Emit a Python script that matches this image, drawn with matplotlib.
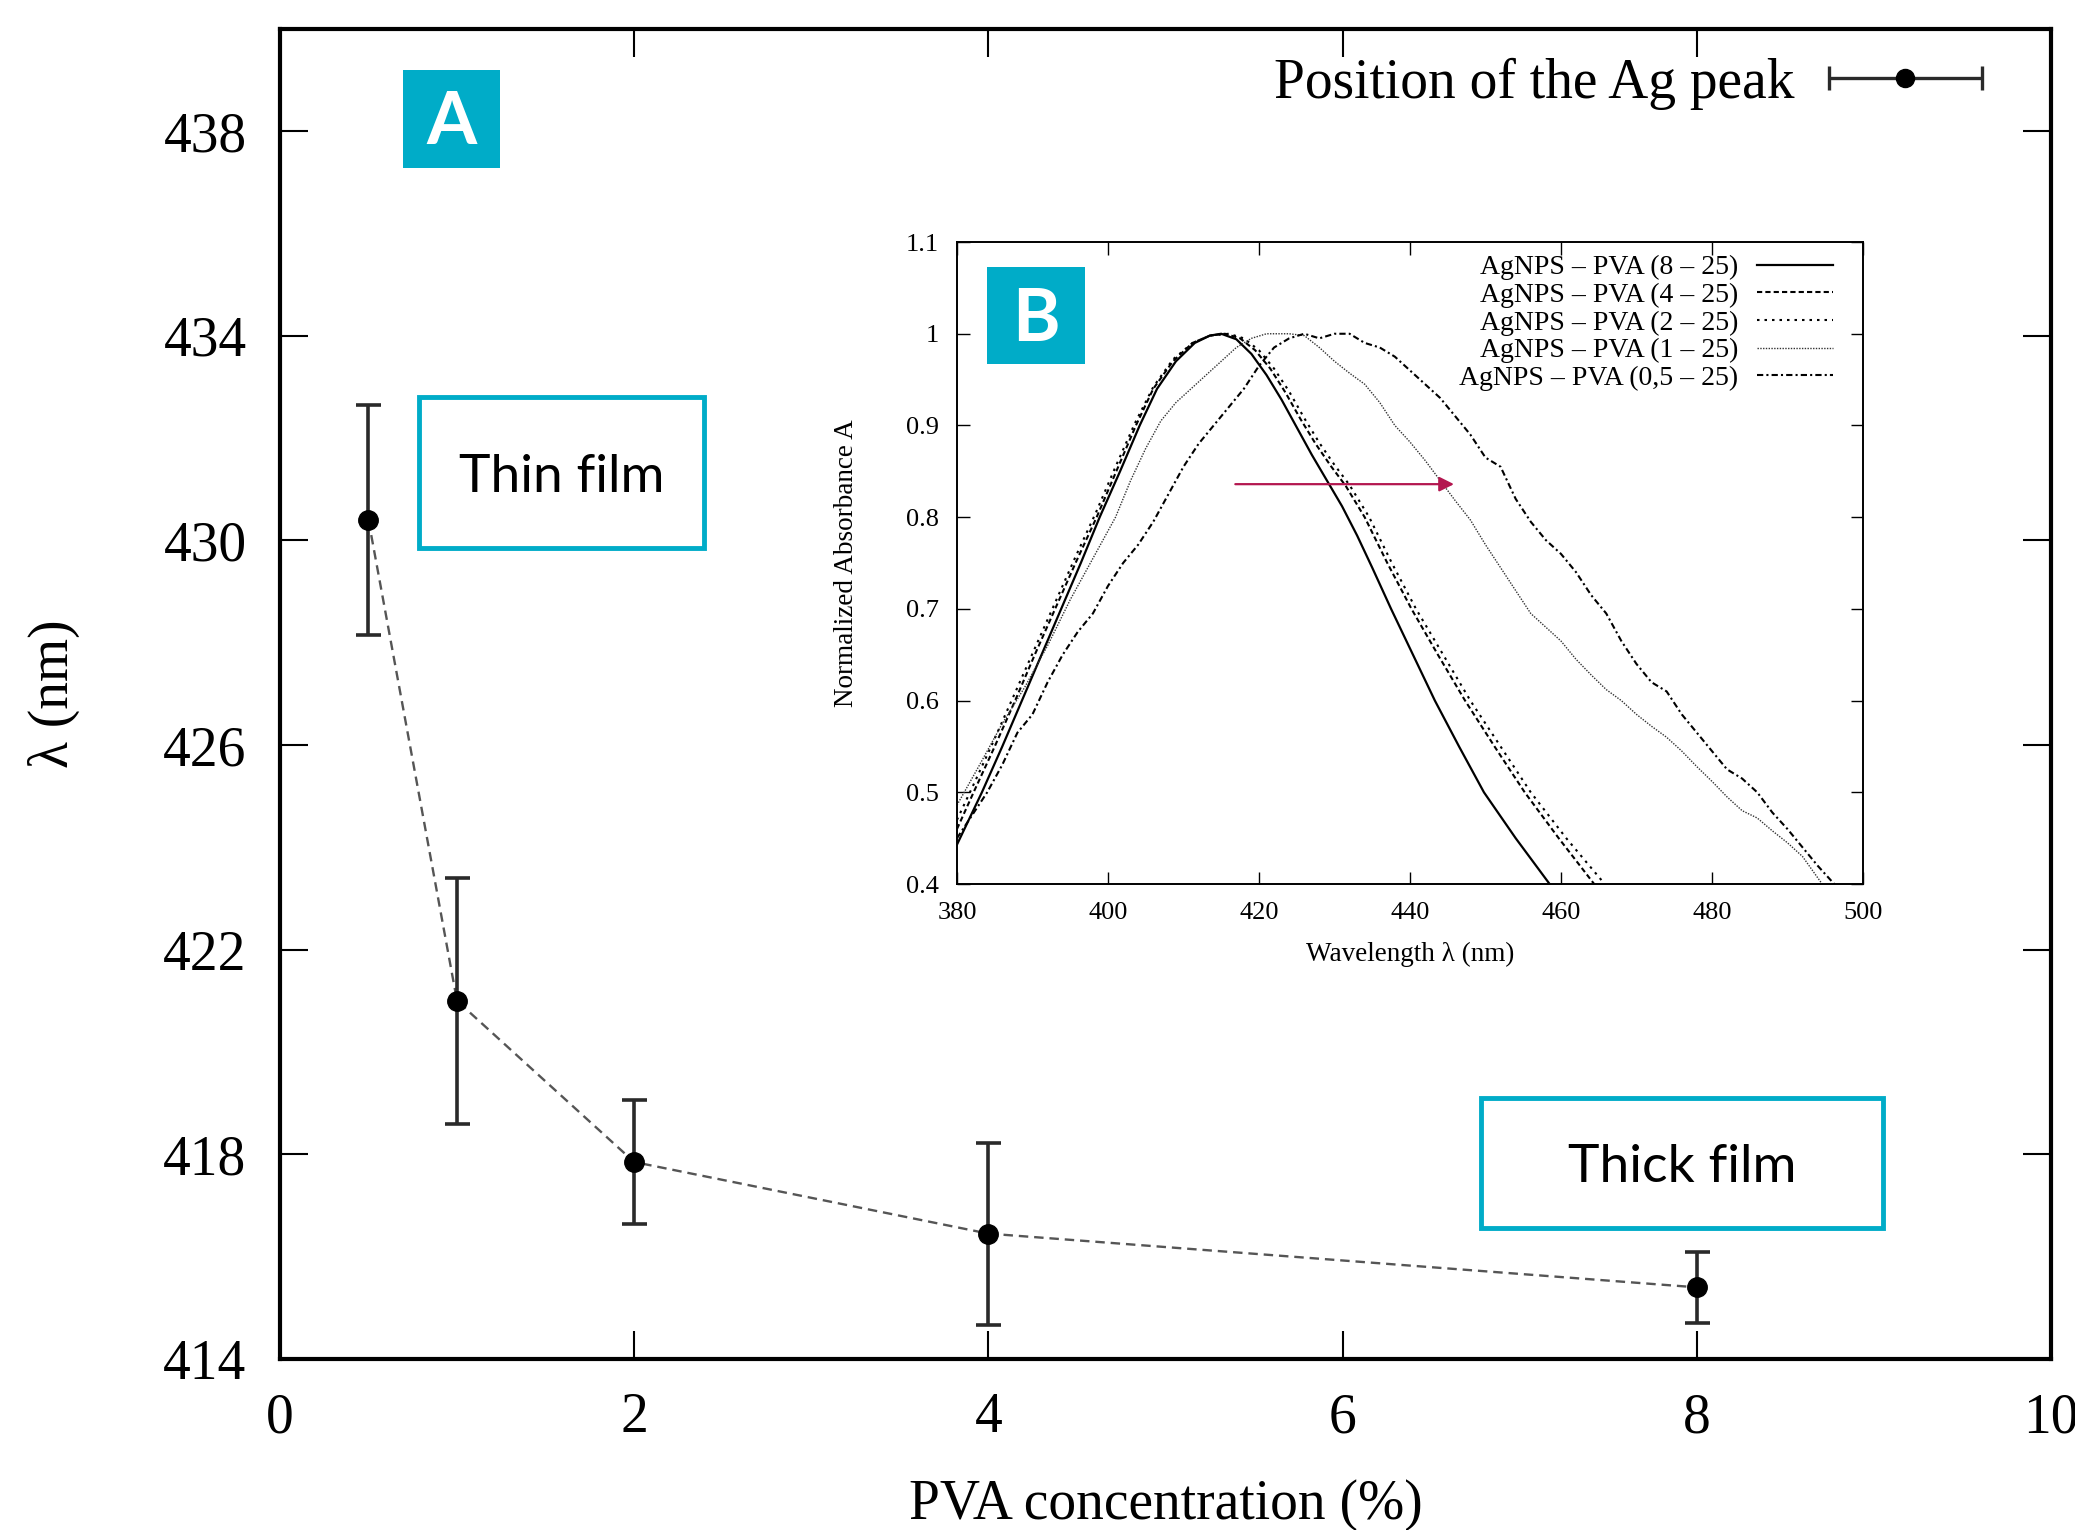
import numpy as np
import matplotlib
matplotlib.use("Agg")
import matplotlib.pyplot as plt
from matplotlib.patches import Rectangle
from matplotlib.ticker import FuncFormatter
from matplotlib.legend_handler import HandlerErrorbar

# main panel: peak position vs PVA concentration
pva_conc = [0.5, 1, 2, 4, 8]
peak_pos = [430.4, 421.0, 417.85, 416.45, 415.4]
peak_err = [2.25, 2.4, 1.22, 1.78, 0.7]

# inset: normalized absorbance spectra
wl_8 = [380, 383.3, 386, 388.6, 391.2, 393.8, 396.4, 398.9, 401.6, 404.2, 406.5, 409, 411.5, 413.5,
        415, 417, 419, 421, 423, 425, 427, 429, 431, 433, 435, 437.5, 440.4, 443.3, 446.5, 449.8,
        454, 458.5]
abs_8 = [0.443, 0.5, 0.55, 0.6, 0.65, 0.7, 0.75, 0.8, 0.85, 0.9, 0.94, 0.97, 0.99, 0.998,
         1.0, 0.994, 0.978, 0.955, 0.928, 0.898, 0.868, 0.84, 0.812, 0.78, 0.745, 0.7, 0.65, 0.6, 0.55, 0.5,
         0.45, 0.4]

wl_4 = [380, 382.2, 385, 387.7, 390.3, 393, 395.7, 398.5, 401.1, 403.7, 406, 408.6, 411.2, 413.5,
        415.5, 417.5, 419.5, 421.5, 423.5, 425.5, 427.5, 429.5, 431.5, 434, 437, 440.2, 443.7, 447.3,
        451.2, 455.2, 459.7, 464.4]
abs_4 = [0.46, 0.5, 0.55, 0.6, 0.65, 0.7, 0.75, 0.8, 0.85, 0.9, 0.94, 0.97, 0.99, 0.998,
         1.0, 0.995, 0.982, 0.962, 0.936, 0.907, 0.88, 0.856, 0.834, 0.8, 0.75, 0.7, 0.65, 0.6,
         0.55, 0.5, 0.45, 0.4]

wl_2 = [380, 382, 384.8, 387.5, 390.2, 392.9, 395.6, 398.4, 401, 403.6, 406, 408.6, 411.2, 413.5,
        416, 418, 420, 422, 424, 426, 428, 430, 432, 434.6, 437.6, 440.8, 444.4, 448, 452, 456,
        460.7, 465.8]
abs_2 = [0.47, 0.505, 0.555, 0.605, 0.655, 0.705, 0.755, 0.805, 0.855, 0.903, 0.942, 0.972, 0.99, 0.998,
         1.0, 0.995, 0.982, 0.962, 0.937, 0.908, 0.881, 0.857, 0.835, 0.8, 0.75, 0.7, 0.65, 0.6, 0.55, 0.5,
         0.45, 0.4]

wl_1 = [380, 383, 386, 389, 392, 395, 397, 399, 401, 403, 405, 407, 409, 411, 413, 415, 417, 419,
        421, 424, 426, 428, 430, 432, 434, 436, 438, 440, 442, 444, 446, 448, 450, 452, 454, 456,
        458, 460, 462, 464, 466, 468, 470, 472, 474, 476, 478, 480, 482, 484, 486, 488, 490, 492, 494.6]
abs_1 = [0.486, 0.53, 0.575, 0.615, 0.66, 0.71, 0.74, 0.77, 0.8, 0.84, 0.875, 0.905, 0.925, 0.94,
         0.955, 0.97, 0.985, 0.995, 1.0, 1.0, 0.998, 0.985, 0.97, 0.957, 0.945, 0.925, 0.9, 0.882,
         0.862, 0.84, 0.818, 0.797, 0.77, 0.745, 0.72, 0.695, 0.68, 0.665, 0.645, 0.628, 0.612, 0.6,
         0.585, 0.572, 0.56, 0.545, 0.528, 0.512, 0.495, 0.48, 0.472, 0.458, 0.445, 0.43, 0.4]

wl_05 = [380, 382, 384, 386, 388, 390, 392, 394, 396, 398, 400, 402, 404, 406, 408, 410, 412, 414,
         416, 418, 420, 422, 424, 426, 428, 430, 432, 434, 436, 438, 440, 442, 444, 446, 448, 450,
         452, 454, 456, 458, 460, 462, 464, 466, 468, 470, 472, 474, 476, 478, 480, 482, 484, 486,
         488, 490, 492, 494, 496.2]
abs_05 = [0.45, 0.475, 0.5, 0.53, 0.565, 0.585, 0.62, 0.65, 0.675, 0.695, 0.725, 0.75, 0.77, 0.795,
          0.825, 0.855, 0.88, 0.9, 0.92, 0.94, 0.965, 0.985, 0.995, 1.0, 0.995, 1.0, 1.0, 0.99, 0.985,
          0.975, 0.96, 0.945, 0.93, 0.91, 0.89, 0.865, 0.855, 0.82, 0.795, 0.775, 0.76, 0.74, 0.715,
          0.695, 0.665, 0.64, 0.62, 0.61, 0.585, 0.565, 0.545, 0.525, 0.515, 0.5, 0.478, 0.46, 0.44,
          0.42, 0.4]

series = [
    ("AgNPS \u2013 PVA (8 \u2013 25)", wl_8, abs_8, dict(lw=1.6, ls="-", color="black")),
    ("AgNPS \u2013 PVA (4 \u2013 25)", wl_4, abs_4, dict(lw=1.5, ls=(0, (2.5, 1.5)), color="black")),
    ("AgNPS \u2013 PVA (2 \u2013 25)", wl_2, abs_2, dict(lw=1.5, ls=(0, (1.2, 2.4)), color="black")),
    ("AgNPS \u2013 PVA (1 \u2013 25)", wl_1, abs_1, dict(lw=1.0, ls=(0, (1, 1)), color="#333333")),
    ("AgNPS \u2013 PVA (0,5 \u2013 25)", wl_05, abs_05, dict(lw=1.5, ls=(0, (3, 1.5, 1, 1.5)), color="black")),
]

cyan = "#00acc8"
serif = "Liberation Serif"
plt.rcParams["font.family"] = serif

fig = plt.figure(figsize=(20.75, 15.3), dpi=100)

# ---- main axes
ax = fig.add_axes([0.1349, 0.1118, 0.8535, 0.8693])
ax.plot(pva_conc, peak_pos, color="#555555", lw=1.7, ls=(0, (4, 2.5)), zorder=2)
ax.errorbar(pva_conc, peak_pos, yerr=peak_err, fmt="o", color="black", ecolor="#2a2a2a",
            elinewidth=2.6, capsize=9, capthick=2.6, markersize=14, zorder=3)
# proxy for the gnuplot style key (horizontal bar)
key = ax.errorbar([np.nan], [np.nan], xerr=[1.0], fmt="o", color="black", ecolor="#2a2a2a",
                  elinewidth=2.4, capsize=8.5, capthick=2.4, markersize=13)
ax.legend([key], ["Position of the Ag peak"], loc="center right", bbox_to_anchor=(0.961, 0.959),
          frameon=False, fontsize=40, borderpad=0, borderaxespad=0, handlelength=2.75,
          handletextpad=0.62, markerfirst=False,
          handler_map={key: HandlerErrorbar(xerr_size=1.37)})

ax.set_xlim(0, 10)
ax.set_ylim(414, 440)
ax.set_xticks([0, 2, 4, 6, 8, 10])
ax.set_yticks([414, 418, 422, 426, 430, 434, 438])
ax.tick_params(direction="in", top=True, right=True, length=20, width=1.5, labelsize=40)
ax.tick_params(axis="x", pad=24)
ax.tick_params(axis="y", pad=24)
for s in ax.spines.values():
    s.set_linewidth(3)
ax.set_xlabel("PVA concentration (%)", fontsize=40, labelpad=25)
ax.set_ylabel("\u03bb (nm)", fontsize=40, labelpad=60)

# ---- inset
ins = fig.add_axes([0.4612, 0.4222, 0.4366, 0.4196])
for label, wl, ab, st in series:
    ins.plot(wl, ab, label=label, **st)
ins.annotate("", xy=(446.2, 0.836), xytext=(416.5, 0.836),
             arrowprops=dict(arrowstyle="-|>", color="#b3164f", lw=1.6, mutation_scale=22))
ins.set_xlim(380, 500)
ins.set_ylim(0.4, 1.1)
ins.set_xticks(np.arange(380, 501, 20))
ins.set_yticks(np.round(np.arange(0.4, 1.11, 0.1), 1))
ins.yaxis.set_major_formatter(FuncFormatter(lambda v, p: f"{v:g}"))
ins.tick_params(direction="in", top=True, right=True, length=9, width=1.0, labelsize=19)
ins.tick_params(axis="x", pad=13)
ins.tick_params(axis="y", pad=13)
for s in ins.spines.values():
    s.set_linewidth(1.4)
ins.set_xlabel("Wavelength \u03bb (nm)", fontsize=19.5, labelpad=13)
ins.set_ylabel("Normalized Absorbance A", fontsize=19.5, labelpad=34)
ins.legend(loc="upper right", bbox_to_anchor=(0.967, 0.98), frameon=False, fontsize=20,
           borderpad=0, borderaxespad=0, labelspacing=0.08, handlelength=2.75,
           handletextpad=0.65, markerfirst=False)

# ---- panel tags and annotation boxes
for (x0, y0, w, h), txt in [((0.1942, 0.8902, 0.0467, 0.0641), "A"),
                             ((0.4757, 0.7621, 0.0472, 0.0634), "B")]:
    fig.add_artist(Rectangle((x0, y0), w, h, transform=fig.transFigure, facecolor=cyan,
                             edgecolor="none", zorder=5))
    fig.text(x0 + w / 2, y0 + h / 2 - 0.003, txt, color="white", fontsize=52, fontweight="bold",
             family="Lato", ha="center", va="center", zorder=6)

for (x0, y0, w, h), txt in [((0.2019, 0.6418, 0.1373, 0.0987), "Thin film"),
                             ((0.7137, 0.1974, 0.1937, 0.0850), "Thick film")]:
    fig.add_artist(Rectangle((x0, y0), w, h, transform=fig.transFigure, facecolor="white",
                             edgecolor=cyan, lw=3.5, zorder=5))
    fig.text(x0 + w / 2, y0 + h / 2 - 0.003, txt, color="black", fontsize=38.5, family="Lato",
             ha="center", va="center", zorder=6)

fig.savefig("out.png", dpi=100)
